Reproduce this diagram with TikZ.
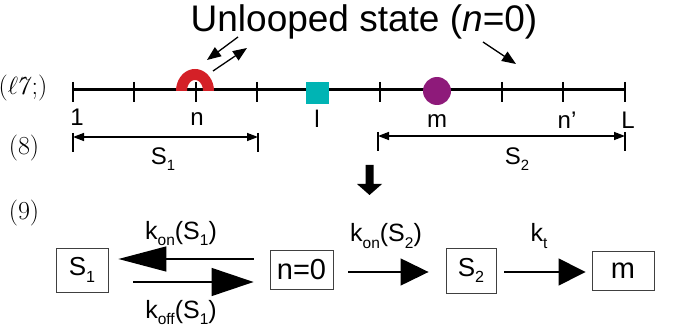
\documentclass[tikz,border=0pt]{standalone}
\usepackage{fontspec}
\usepackage{graphicx}
\newfontfamily\arial{Liberation Sans}
\usetikzlibrary{arrows.meta,calc}
\definecolor{loopred}{RGB}{212,32,39}
\definecolor{tealsq}{RGB}{0,180,180}
\definecolor{purp}{RGB}{142,26,122}
\newcommand\sbx[1]{\raisebox{-0.24em}{\scalebox{0.62}{#1}}}
\tikzset{
  lbl/.style={anchor=base,inner sep=0pt,font=\arial\fontsize{24}{26}\selectfont},
  eqn/.style={inner sep=0pt,font=\fontsize{26}{28}\selectfont},
  box/.style={draw=black!75,line width=0.9pt,inner sep=0pt,font=\arial\fontsize{26}{28}\selectfont},
  tick/.style={line width=1.8pt},
  dimline/.style={line width=1.4pt,{Triangle[length=11pt,width=8pt]}-{Triangle[length=11pt,width=8pt]}},
  dimbar/.style={line width=1.4pt},
  small arrow/.style={line width=1.3pt,-{Triangle[length=14pt,width=11pt]}},
  rate/.style={line width=1.4pt}
}
\begin{document}
\begin{tikzpicture}[x=1pt,y=-1pt]
\useasboundingbox (0,0) rectangle (673,334);
% title
\node[lbl,font=\arial\fontsize{37}{40}\selectfont] (title) at (364,32) {Unlooped state (\textit{n}=0)};
% equation numbers
\node[eqn] (e7) at (23,88) {(\rlap{$\ell$}\kern0.3em\textit{7};)};
\node[eqn] (e8) at (24,148) {(8)};
\node[eqn] (e9) at (24,213) {(9)};
% ticks
\foreach \i/\x in {1/73,2/134,3/196,4/257,5/318,6/380,7/441,8/502,9/563,10/625}{
  \coordinate (t\i) at (\x,90);
}
\draw[line width=3pt] (t1) -- (t10);
\foreach \i in {1,...,10}{
  \draw[tick] ($(t\i)+(0,-8)$) -- ($(t\i)+(0,12)$);
}
% markers
\fill[loopred] plot[smooth,domain=180:0,samples=25] ({195+19*cos(\x)},{91-22*sin(\x)})
  -- plot[smooth,domain=0:180,samples=25] ({195+8*cos(\x)},{91-11*sin(\x)}) -- cycle;
\fill[tealsq] (306,82) rectangle (329,104);
\fill[purp] (437,91) circle[radius=14];
% labels under line
\node[lbl] (l1) at (77,126) {1};
\node[lbl] (ln) at (197,126) {n};
\node[lbl] (ll) at (317,128) {l};
\node[lbl] (lm) at (437,128) {m};
\node[lbl] (lnp) at (567,129) {n’};
\node[lbl] (lL) at (628,129) {L};
% dimension S1
\draw[dimbar] (73,133) -- (73,152);
\draw[dimbar] (258,133) -- (258,152);
\draw[dimline] (73,137) -- (258,137);
\node[lbl] (s1) at (163,165) {S\sbx{1}};
% dimension S2
\draw[dimbar] (378,132) -- (378,151);
\draw[dimbar] (625,132) -- (625,151);
\draw[dimline] (378,136) -- (625,136);
\node[lbl] (s2) at (517,165) {S\sbx{2}};
% small arrows
\coordinate (a1s) at (238,37); \coordinate (a1e) at (207,60);
\coordinate (a2s) at (213,71); \coordinate (a2e) at (247,48);
\coordinate (a3s) at (483,42); \coordinate (a3e) at (516,64);
\draw[small arrow] (a1s) -- (a1e);
\draw[small arrow] (a2s) -- (a2e);
\draw[small arrow] (a3s) -- (a3e);
% down block arrow
\fill (365.5,165) -- (373.5,165) -- (373.5,184) -- (382,184) -- (369.5,195) -- (357,184) -- (365.5,184) -- cycle;
% boxes
\node[box,minimum width=52pt,minimum height=44pt] (S1) at (82,270) {S\sbx{1}};
\node[box,minimum width=63pt,minimum height=39pt,font=\arial\fontsize{29}{30}\selectfont] (n0) at (301.5,269.5) {n=0};
\node[box,minimum width=50pt,minimum height=45pt] (S2) at (471,270.5) {S\sbx{2}};
\node[box,minimum width=62pt,minimum height=39pt,font=\arial\fontsize{29}{30}\selectfont] (m) at (623,270.5) {m};
% rate arrows
\draw[rate,-{Triangle[length=48pt,width=25pt]}] ($(n0.west)+(-16,-10.5)$) -- ($(S1.east)+(10,-11)$);
\draw[rate,-{Triangle[length=42pt,width=28pt]}] ($(S1.east)+(25,12)$) -- ($(n0.west)+(-16,12.5)$);
\draw[rate,-{Triangle[length=28pt,width=27pt]}] ($(n0.east)+(15,2.5)$) -- ($(S2.west)+(-17,1.5)$);
\draw[rate,-{Triangle[length=27pt,width=27pt]}] ($(S2.east)+(8,1.5)$) -- ($(m.west)+(-6,1.5)$);
% rate labels
\node[lbl,font=\arial\fontsize{25}{26}\selectfont] (k1) at (181,240) {k\sbx{on}(S\sbx{1})};
\node[lbl,font=\arial\fontsize{25}{26}\selectfont] (k2) at (181,318) {k\sbx{off}(S\sbx{1})};
\node[lbl,font=\arial\fontsize{25}{26}\selectfont] (k3) at (386,242) {k\sbx{on}(S\sbx{2})};
\node[lbl,font=\arial\fontsize{25}{26}\selectfont] (k4) at (539,242) {k\sbx{t}};
\end{tikzpicture}
\end{document}
